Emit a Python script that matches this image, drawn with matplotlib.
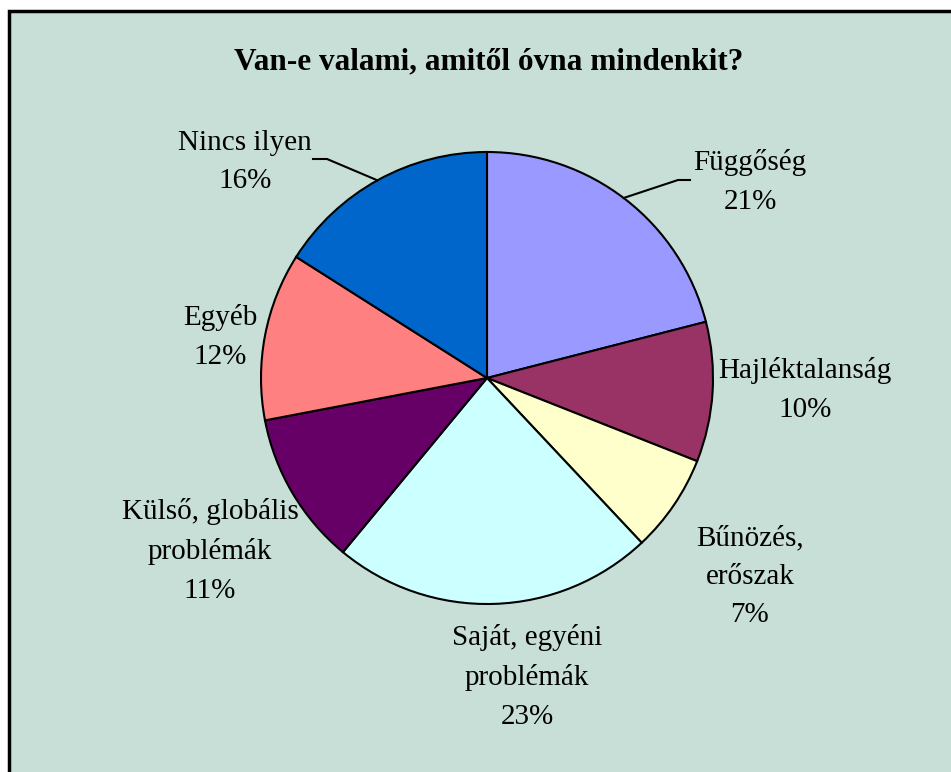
import numpy as np
import matplotlib
matplotlib.use('Agg')
import matplotlib.pyplot as plt

plt.rcParams['font.family'] = ['Liberation Serif', 'DejaVu Serif']

# Data
labels = ['Függőség', 'Hajléktalanság', 'Bűnözés,\nerőszak', 'Saját, egyéni\nproblémák',
          'Külső, globális\nproblémák', 'Egyéb', 'Nincs ilyen']
values = [21, 10, 7, 23, 11, 12, 16]
colors = ['#9999FF', '#993366', '#FFFFCC', '#CCFFFF', '#660066', '#FF8080', '#0066CC']
title = 'Van-e valami, amitől óvna mindenkit?'

W, H = 951, 772
bg = '#C8DFD7'

fig = plt.figure(figsize=(W / 100, H / 100), dpi=100)
fig.patch.set_facecolor('white')
ax = fig.add_axes([0, 0, 1, 1])

# chart area with black border on top/left (right & bottom cut off)
ax.add_patch(plt.Rectangle((9, -10), W + 20, H - 11 + 10, facecolor=bg,
                           edgecolor='black', linewidth=2.5, zorder=0))

cx, cy, r = 487, H - 378, 226
wedges, _ = ax.pie(values, colors=colors, startangle=90, counterclock=False,
                   center=(cx, cy), radius=r, frame=True,
                   wedgeprops=dict(edgecolor='black', linewidth=1.5))
ax.set_xlim(0, W)
ax.set_ylim(0, H)
ax.axis('off')
ax.set_aspect('equal')

# label positions (pixel coords, y from top)
label_pos = [(750, 182), (805, 390), (750, 577), (527, 677),
             (210, 551), (220, 337), (245, 162)]
for lab, v, (x, y) in zip(labels, values, label_pos):
    ax.text(x, H - y, f'{lab}\n{v}%', ha='center', va='center',
            fontsize=21, linespacing=1.62, color='black')

# leader lines
def edge(angle_deg):
    a = np.deg2rad(angle_deg)
    return cx + r * np.cos(a), cy + r * np.sin(a)

ex, ey = edge(52.8)
ax.plot([690, 678, ex], [H - 180, H - 180, ey], color='black', lw=1.5)
ex, ey = edge(119)
ax.plot([313, 327, ex], [H - 159, H - 159, ey], color='black', lw=1.5)

ax.text(489, H - 62, title, ha='center', va='center', fontsize=22.5,
        fontweight='bold')

fig.savefig('out.png', dpi=100, facecolor='white')
